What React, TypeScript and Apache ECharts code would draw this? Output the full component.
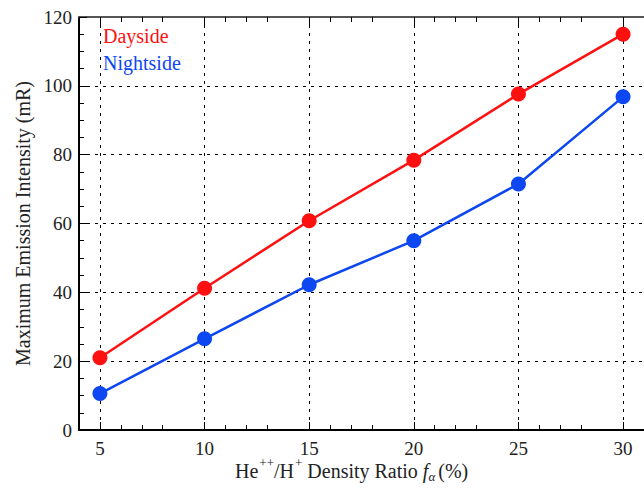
import React, { useEffect, useRef } from "react";
import * as echarts from "echarts";

const ratios = [5, 10, 15, 20, 25, 30];
const dayside = [21, 41.2, 60.8, 78.4, 97.6, 115];
const nightside = [10.6, 26.5, 42.2, 55, 71.5, 96.8];
const seriesNames = ["Dayside", "Nightside"];
const yTicks = [0, 20, 40, 60, 80, 100, 120];

const FONT = "'Liberation Serif', 'Times New Roman', serif";
const RED = "#ff1010";
const BLUE = "#0d47f2";
const INK = "#222";

export default function App() {
  const ref = useRef<HTMLDivElement>(null);
  useEffect(() => {
    if (!ref.current) return;
    const chart = echarts.init(ref.current, undefined, { renderer: "svg" });
    const grid = { left: 79, top: 17, width: 572, height: 413 };
    const dash = { color: "#000", width: 1, type: [3, 5] as number[] };
    const n = { fontFamily: FONT, fontSize: 20, color: INK, lineHeight: 22, verticalAlign: "top", padding: [6, 0, 0, 0] };
    chart.setOption({
      animation: false,
      backgroundColor: "#fff",
      grid,
      xAxis: [
        {
          type: "value",
          min: 4,
          max: 31,
          interval: 5,
          axisLine: { onZero: false, lineStyle: { color: "#000", width: 2 } },
          axisTick: { inside: true, length: 8, lineStyle: { color: "#000", width: 1 }, customValues: ratios },
          minorTick: { show: true, splitNumber: 5, length: 5, lineStyle: { color: "#000", width: 1 } },
          axisLabel: {
            customValues: ratios,
            fontFamily: FONT,
            fontSize: 19,
            color: INK,
            margin: 9,
          },
          splitLine: { show: true, lineStyle: dash },
          customValues: ratios,
        },
        {
          type: "value",
          position: "top",
          min: 4,
          max: 31,
          interval: 5,
          axisLine: { onZero: false, lineStyle: { color: "#555", width: 2 } },
          axisTick: { inside: true, length: 11, lineStyle: { color: "#000", width: 1 }, customValues: ratios },
          minorTick: { show: true, splitNumber: 5, length: 5, lineStyle: { color: "#000", width: 1 } },
          axisLabel: { show: false },
          splitLine: { show: false },
        },
      ],
      yAxis: [
        {
          type: "value",
          min: 0,
          max: 120,
          interval: 20,
          name: "Maximum Emission Intensity (mR)",
          nameLocation: "middle",
          nameGap: 45,
          nameTextStyle: { fontFamily: FONT, fontSize: 20, color: INK },
          axisLine: { show: true, onZero: false, lineStyle: { color: "#000", width: 2 } },
          axisTick: { inside: true, length: 8, lineStyle: { color: "#000", width: 1 } },
          minorTick: { show: true, splitNumber: 4, length: 5, lineStyle: { color: "#000", width: 1 } },
          axisLabel: {
            fontFamily: FONT,
            fontSize: 19,
            color: INK,
            margin: 7,
            formatter: (v: number) => (yTicks.includes(v) ? String(v) : ""),
          },
          splitLine: { show: true, lineStyle: dash },
        },
      ],
      series: [
        {
          name: seriesNames[0],
          type: "line",
          data: ratios.map((x, i) => [x, dayside[i]]),
          symbol: "circle",
          symbolSize: 15,
          lineStyle: { color: RED, width: 2.5 },
          itemStyle: { color: RED },
          z: 5,
        },
        {
          name: seriesNames[1],
          type: "line",
          data: ratios.map((x, i) => [x, nightside[i]]),
          symbol: "circle",
          symbolSize: 15,
          lineStyle: { color: BLUE, width: 2.5 },
          itemStyle: { color: BLUE },
          z: 5,
        },
      ],
      graphic: [
        {
          type: "text",
          left: 103,
          top: 26,
          style: { text: seriesNames[0], fontFamily: FONT, fontSize: 20, fill: RED },
        },
        {
          type: "text",
          left: 103,
          top: 53,
          style: { text: seriesNames[1], fontFamily: FONT, fontSize: 20, fill: BLUE },
        },
        {
          type: "text",
          left: 235,
          top: 455,
          style: {
            text: "{n|He}{s|++}{n|/H}{s|+}{n| Density Ratio }{i|f}{sub|α}{n|(%)}",
            fontFamily: FONT,
            fontSize: 20,
            fill: INK,
            rich: {
              n,
              s: { fontFamily: FONT, fontSize: 13, color: INK, lineHeight: 14, verticalAlign: "top", padding: [1, 0, 0, 1] },
              i: { ...n, fontStyle: "italic" },
              sub: { fontFamily: FONT, fontSize: 13, fontStyle: "italic", color: INK, lineHeight: 14, verticalAlign: "top", padding: [15, 3, 0, 0] },
            },
          },
        },
      ],
    });
    return () => chart.dispose();
  }, []);
  return (
    <div
      ref={ref}
      style={{ position: "fixed", left: 0, top: 0, width: 644, height: 489 }}
    />
  );
}
